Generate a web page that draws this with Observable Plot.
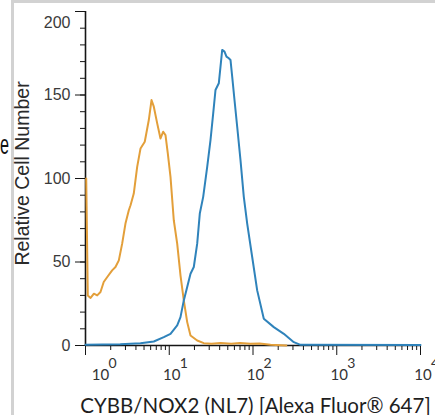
<!DOCTYPE html>
<html><head><meta charset="utf-8">
<script src="https://cdn.jsdelivr.net/npm/d3@7"></script>
<script src="https://cdn.jsdelivr.net/npm/@observablehq/plot@0.6"></script>
<style>
html,body{margin:0;padding:0;background:#fff;}
#wrap{position:relative;width:435px;height:415px;overflow:hidden;background:#fff;}
#wrap svg{position:absolute;left:0;top:0;}
.bl{position:absolute;left:11px;top:0;width:3px;height:415px;background:#d2d2d2;}
.bt{position:absolute;left:11px;top:0;width:424px;height:3px;background:#d2d2d2;}
.ee{position:absolute;left:0px;top:130px;font:27px "Liberation Sans",Arial,sans-serif;color:#111;transform:scaleX(0.6);transform-origin:0 0;}
</style></head><body>
<div id="wrap"><div class="bl"></div><div class="bt"></div><div class="ee">e</div></div>
<script>
// Isotype control (orange)
const orangeX = [1.02, 1.065, 1.15, 1.26, 1.38, 1.51, 1.65, 1.82, 2.08, 2.28, 2.5, 2.74, 3.0, 3.29, 3.45, 3.77, 4.14, 4.54, 5.1, 5.7, 6.14, 6.54, 7.18, 7.86, 8.47, 9.02, 9.61, 10.35, 11.33, 12.44, 13.62, 14.92, 16.38, 17.94, 21.56, 25.85, 32, 41, 55, 70, 93, 120, 162, 250];
const orangeY = [100, 30, 28.5, 31, 30, 32, 38, 41, 45, 47, 51, 61, 73, 81, 84, 91, 107, 118, 122, 135, 147, 143, 133, 124, 128, 126, 115, 101, 75, 61, 42, 27, 14, 6, 3, 1.4, 1, 1.5, 1, 1.5, 1, 1.2, 0.5, 0];
// CYBB/NOX2 (blue)
const blueX = [1.0, 2.6, 4.54, 6.54, 8.61, 10.35, 12.44, 13.62, 14.92, 16.38, 17.94, 19.64, 21.56, 23.16, 25.43, 28.39, 31.08, 33.48, 35.66, 39.05, 40.92, 42.88, 45.67, 48.26, 51.4, 53.86, 56.44, 60.13, 64.76, 70.9, 77.66, 85.25, 97.8, 112.2, 134.6, 177.2, 233.3, 307, 369, 10000];
const blueY = [0.5, 0.8, 1.4, 2.4, 5, 7, 12, 17, 27, 35, 43, 47, 61, 79, 89, 107, 123, 139, 153, 157, 167, 177, 176, 173, 172, 171, 161, 147, 131, 111, 89, 73, 53, 33, 16, 11, 7, 2, 0.4, 0.3];

const yTicks = [0, 50, 100, 150, 200];
const yMinor = [0,10,20,30,40,50,60,70,80,90,100,110,120,130,140,150,160,170,180,190,200];
const xDecades = [1, 10, 100, 1000, 10000];
const xExponents = ["0", "1", "2", "3", "4"];
const xMinor = [1,10,100,1000].flatMap(d => [2,3,4,5,6,7,8,9].map(m => d * m));
const yTitle = "Relative Cell Number";
const xTitle = "CYBB/NOX2 (NL7) [Alexa Fluor® 647]";

const orange = orangeX.map((x, i) => ({x, y: orangeY[i]}));
const blue = blueX.map((x, i) => ({x, y: blueY[i]}));
const decades = xDecades.map((d, i) => ({d, e: xExponents[i]}));

const ink = "#151515";
const plot = Plot.plot({
  width: 435, height: 415,
  marginLeft: 85, marginRight: 15, marginTop: 11, marginBottom: 70,
  x: {type: "log", domain: [1, 10000], label: null},
  y: {domain: [0, 200], label: null},
  style: {background: "transparent", fontFamily: "'Liberation Sans', Arial, sans-serif", overflow: "visible"},
  marks: [
    Plot.axisY(yMinor, {tickSize: 5, tickFormat: () => "", label: null, stroke: ink}),
    Plot.axisY(yTicks, {tickSize: 10, tickFormat: () => "", label: null, stroke: ink}),
    Plot.axisX(xMinor, {tickSize: 5, tickFormat: () => "", label: null, stroke: ink}),
    Plot.axisX(xDecades, {tickSize: 10, tickFormat: () => "", label: null, stroke: ink}),
    Plot.ruleY([0], {stroke: ink, strokeWidth: 1.6}),
    Plot.ruleX([1], {stroke: ink, strokeWidth: 1.6}),
    Plot.text(yTicks.filter(d => d < 200), {y: d => d, frameAnchor: "left", text: d => String(d), textAnchor: "end", dx: -15, fontSize: 16, fill: "#3a3a3a"}),
    Plot.text(yTicks.filter(d => d === 200), {y: d => d, frameAnchor: "left", text: d => String(d), textAnchor: "end", dx: -15, dy: 11, fontSize: 16, fill: "#3a3a3a"}),
    Plot.text(decades.filter(o => o.d > 1), {x: "d", frameAnchor: "bottom", text: () => "10", dx: 2.5, dy: 34, fontSize: 15, fontFamily: "Lato", fill: "#333"}),
    Plot.text(decades.filter(o => o.d === 1), {x: "d", frameAnchor: "bottom", text: () => "10", dx: 15, dy: 34, fontSize: 15, fontFamily: "Lato", fill: "#333"}),
    Plot.text(decades.filter(o => o.d > 1), {x: "d", frameAnchor: "bottom", text: "e", textAnchor: "start", dx: 10.5, dy: 22, fontSize: 14, fontFamily: "Lato", fill: "#333"}),
    Plot.text(decades.filter(o => o.d === 1), {x: "d", frameAnchor: "bottom", text: "e", textAnchor: "start", dx: 23, dy: 22, fontSize: 14, fontFamily: "Lato", fill: "#333"}),
    Plot.text([yTitle], {frameAnchor: "left", text: d => d, rotate: -90, textAnchor: "middle", lineAnchor: "bottom", dx: -57, dy: -5, fontSize: 19.5, fill: "#2a2a2a"}),
    Plot.text([xTitle], {frameAnchor: "bottom", text: d => d, lineAnchor: "bottom", dx: 2.5, dy: 67, fontSize: 20.5, fontFamily: "Lato", fill: "#1e1e1e"}),
    Plot.line(orange, {x: "x", y: "y", stroke: "#e39f3a", strokeWidth: 2, strokeLinejoin: "round"}),
    Plot.line(blue, {x: "x", y: "y", stroke: "#2f83bb", strokeWidth: 2, strokeLinejoin: "round"})
  ]
});
document.getElementById("wrap").appendChild(plot);
</script>
</body></html>
